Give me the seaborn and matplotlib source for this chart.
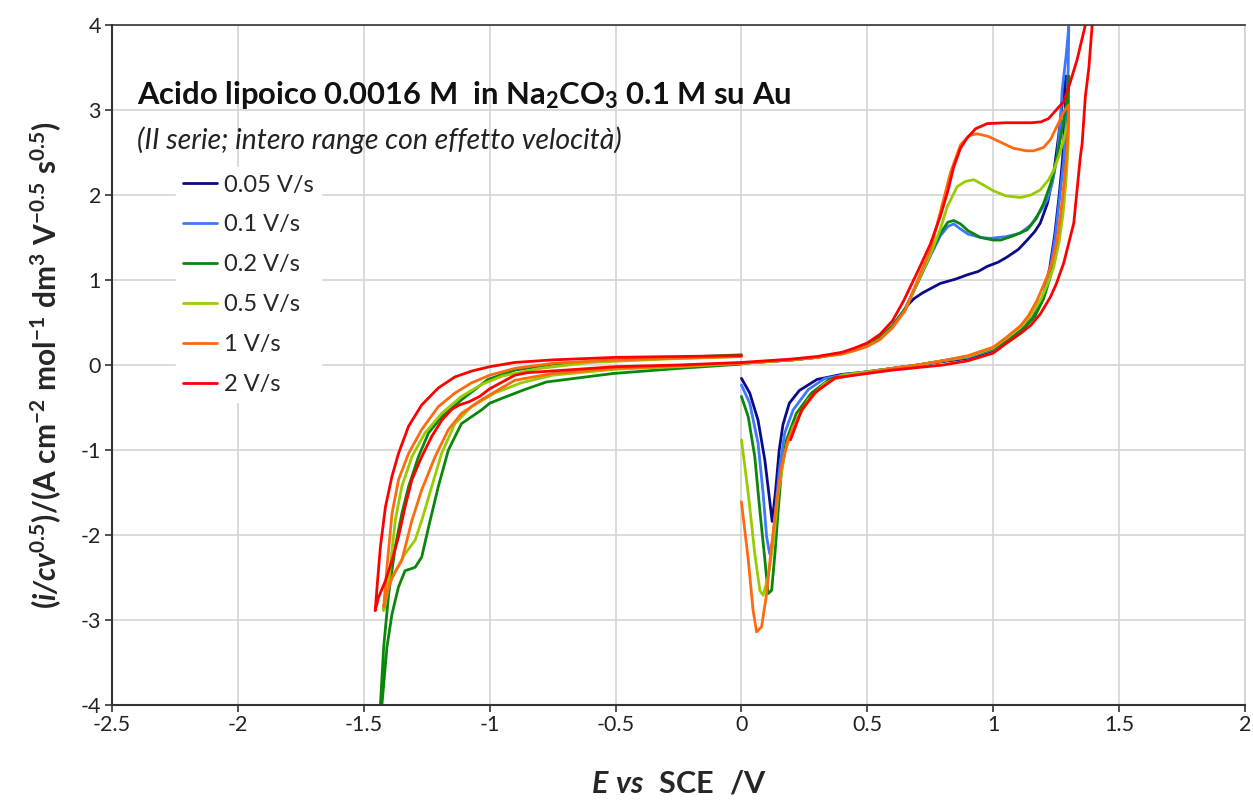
import numpy as np
import pandas as pd
import matplotlib
matplotlib.use("Agg")
import matplotlib.pyplot as plt
import seaborn as sns

# ---------------- data ----------------
rates = ["0.05 V/s", "0.1 V/s", "0.2 V/s", "0.5 V/s", "1 V/s", "2 V/s"]
colors = ["#0b0b8a", "#3f78ff", "#0a870a", "#99cc00", "#ff6a10", "#ff0000"]

# anodic range (0 -> ~1.3 V -> back), E in V, j in A cm-2 mol-1 dm3 V-0.5 s0.5
pos_E_005 = [0, 0.1, 0.2, 0.3, 0.4, 0.45, 0.5, 0.55, 0.6, 0.64, 0.665, 0.685, 0.72, 0.79, 0.85, 0.896, 0.94,
             0.976, 1.02, 1.055, 1.1, 1.135, 1.165, 1.187, 1.215, 1.24, 1.26, 1.275, 1.29,
             1.285, 1.275, 1.262, 1.245, 1.225, 1.2, 1.165, 1.12, 1.06, 1.0, 0.9, 0.8, 0.7, 0.6, 0.5, 0.4,
             0.3, 0.23, 0.19, 0.165, 0.15, 0.135, 0.122, 0.112, 0.093, 0.066, 0.033, 0.0]
pos_J_005 = [0.02, 0.04, 0.06, 0.09, 0.14, 0.18, 0.23, 0.32, 0.46, 0.62, 0.72, 0.78, 0.85, 0.96, 1.01, 1.06, 1.10,
             1.16, 1.21, 1.27, 1.36, 1.47, 1.57, 1.67, 1.9, 2.25, 2.7, 3.1, 3.4,
             2.9, 2.4, 2.0, 1.55, 1.15, 0.82, 0.6, 0.43, 0.28, 0.17, 0.08, 0.04, 0.0, -0.04, -0.08, -0.11,
             -0.17, -0.3, -0.45, -0.7, -1.0, -1.5, -1.84, -1.59, -1.12, -0.65, -0.33, -0.157]

pos_E_01 = [0, 0.1, 0.2, 0.3, 0.4, 0.45, 0.5, 0.55, 0.6, 0.65, 0.7, 0.75, 0.79, 0.82, 0.843, 0.87, 0.9, 0.95,
            0.99, 1.05, 1.107, 1.15, 1.19, 1.214, 1.235, 1.254, 1.265, 1.274, 1.29, 1.3,
            1.298, 1.29, 1.28, 1.265, 1.248, 1.228, 1.2, 1.165, 1.12, 1.06, 1.0, 0.9, 0.8, 0.7, 0.6, 0.5, 0.4,
            0.33, 0.265, 0.205, 0.172, 0.152, 0.139, 0.126, 0.112, 0.1, 0.086, 0.066, 0.033, 0.0]
pos_J_01 = [0.02, 0.04, 0.06, 0.09, 0.14, 0.18, 0.23, 0.32, 0.46, 0.66, 0.97, 1.28, 1.52, 1.63, 1.66, 1.6, 1.54, 1.5,
            1.49, 1.51, 1.55, 1.65, 1.82, 1.94, 2.15, 2.45, 2.8, 3.24, 3.65, 3.98,
            3.5, 2.9, 2.4, 2.0, 1.55, 1.15, 0.8, 0.58, 0.43, 0.29, 0.18, 0.09, 0.05, 0.0, -0.04, -0.08, -0.12,
            -0.16, -0.29, -0.53, -0.8, -1.2, -1.59, -2.06, -2.22, -2.02, -1.51, -0.92, -0.45, -0.235]

pos_E_02 = [0, 0.1, 0.2, 0.3, 0.4, 0.45, 0.5, 0.55, 0.6, 0.65, 0.7, 0.75, 0.79, 0.82, 0.843, 0.87, 0.9, 0.95,
            1.0, 1.03, 1.08, 1.135, 1.17, 1.2, 1.23, 1.254, 1.275, 1.293, 1.3,
            1.298, 1.292, 1.282, 1.268, 1.25, 1.228, 1.2, 1.165, 1.12, 1.06, 1.0, 0.9, 0.8, 0.7, 0.6, 0.5, 0.4,
            0.344, 0.278, 0.218, 0.179, 0.159, 0.146, 0.133, 0.12, 0.106, 0.093, 0.073, 0.053, 0.027, 0.0]
pos_J_02 = [0.02, 0.04, 0.06, 0.09, 0.14, 0.18, 0.23, 0.32, 0.46, 0.66, 0.97, 1.3, 1.55, 1.68, 1.7, 1.66, 1.58, 1.5,
            1.47, 1.47, 1.52, 1.59, 1.72, 1.9, 2.15, 2.45, 2.8, 3.12, 3.4,
            3.0, 2.5, 2.1, 1.7, 1.35, 1.05, 0.78, 0.57, 0.43, 0.29, 0.19, 0.1, 0.05, 0.0, -0.04, -0.08, -0.12,
            -0.18, -0.33, -0.57, -0.88, -1.24, -1.71, -2.22, -2.65, -2.69, -2.29, -1.71, -1.08, -0.61, -0.37]

pos_E_05 = [0, 0.1, 0.2, 0.3, 0.4, 0.45, 0.5, 0.55, 0.6, 0.65, 0.7, 0.75, 0.79, 0.817, 0.857, 0.89, 0.923, 0.96,
            1.0, 1.05, 1.108, 1.15, 1.187, 1.22, 1.24, 1.26, 1.28, 1.3,
            1.298, 1.29, 1.278, 1.262, 1.24, 1.215, 1.19, 1.15, 1.11, 1.05, 1.0, 0.9, 0.8, 0.7, 0.6, 0.5, 0.4,
            0.33, 0.265, 0.205, 0.172, 0.146, 0.126, 0.106, 0.086, 0.073, 0.053, 0.027, 0.0]
pos_J_05 = [0.02, 0.04, 0.06, 0.09, 0.13, 0.17, 0.22, 0.30, 0.44, 0.64, 0.98, 1.3, 1.6, 1.86, 2.1, 2.16, 2.18, 2.12,
            2.05, 1.99, 1.97, 2.0, 2.06, 2.18, 2.29, 2.45, 2.65, 2.9,
            2.6, 2.2, 1.8, 1.45, 1.15, 0.95, 0.78, 0.58, 0.45, 0.31, 0.2, 0.1, 0.05, 0.0, -0.04, -0.08, -0.12,
            -0.22, -0.41, -0.73, -1.04, -1.51, -2.1, -2.49, -2.71, -2.65, -2.22, -1.51, -0.88]

pos_E_1 = [0, 0.1, 0.2, 0.3, 0.4, 0.45, 0.5, 0.55, 0.6, 0.65, 0.7, 0.75, 0.79, 0.83, 0.87, 0.905, 0.936, 0.98,
           1.03, 1.08, 1.13, 1.161, 1.2, 1.227, 1.26, 1.28, 1.3,
           1.298, 1.29, 1.275, 1.254, 1.235, 1.214, 1.187, 1.174, 1.14, 1.108, 1.05, 1.0, 0.9, 0.8, 0.7, 0.6, 0.5,
           0.37, 0.305, 0.239, 0.185, 0.159, 0.139, 0.119, 0.1, 0.08, 0.06, 0.046, 0.027, 0.0]
pos_J_1 = [0.02, 0.04, 0.06, 0.09, 0.13, 0.17, 0.22, 0.30, 0.44, 0.64, 1.0, 1.35, 1.8, 2.26, 2.59, 2.7, 2.72, 2.69,
           2.62, 2.55, 2.52, 2.52, 2.56, 2.65, 2.85, 2.98, 3.06,
           2.8, 2.4, 1.95, 1.47, 1.22, 1.04, 0.85, 0.76, 0.58, 0.46, 0.32, 0.21, 0.11, 0.05, 0.0, -0.04, -0.09,
           -0.16, -0.29, -0.53, -0.88, -1.2, -1.63, -2.14, -2.69, -3.08, -3.14, -2.88, -2.29, -1.61]

pos_E_2 = [0, 0.1, 0.2, 0.3, 0.4, 0.45, 0.5, 0.55, 0.6, 0.645, 0.7, 0.75, 0.79, 0.82, 0.843, 0.87, 0.896, 0.93,
           0.976, 1.05, 1.15, 1.19, 1.22, 1.25, 1.28, 1.3, 1.333, 1.366, 1.38,
           1.395, 1.393, 1.38, 1.366, 1.353, 1.346, 1.32, 1.28, 1.25, 1.227, 1.187, 1.15, 1.108, 1.05, 1.0, 0.9,
           0.8, 0.7, 0.6, 0.5, 0.373, 0.29, 0.239, 0.195]
pos_J_2 = [0.03, 0.05, 0.07, 0.10, 0.15, 0.20, 0.26, 0.36, 0.52, 0.76, 1.1, 1.42, 1.75, 2.05, 2.33, 2.55, 2.67, 2.78,
           2.84, 2.85, 2.85, 2.86, 2.9, 3.0, 3.1, 3.27, 3.59, 4.0, 4.35,
           4.35, 4.0, 3.5, 3.16, 2.6, 2.45, 1.67, 1.2, 0.95, 0.8, 0.6, 0.47, 0.37, 0.25, 0.14, 0.05,
           0.0, -0.03, -0.06, -0.1, -0.15, -0.33, -0.53, -0.88]

# cathodic range (0 -> ~-1.45 V -> back to 0)
neg_E_02 = [0, -0.25, -0.51, -0.775, -0.862, -0.941, -1.0, -1.033, -1.112, -1.164, -1.204, -1.243, -1.27, -1.296,
            -1.336, -1.362, -1.388, -1.408, -1.428, -1.435,
            -1.44, -1.434, -1.421, -1.401, -1.375, -1.349, -1.322, -1.283, -1.243, -1.191, -1.112, -1.007,
            -0.9, -0.75, -0.5, -0.25, 0.0]
neg_J_02 = [0.01, -0.04, -0.1, -0.2, -0.29, -0.38, -0.45, -0.53, -0.69, -1.0, -1.43, -1.91, -2.26, -2.38,
            -2.42, -2.61, -2.93, -3.32, -4.0, -4.3,
            -4.3, -4.0, -3.32, -2.69, -2.14, -1.75, -1.43, -1.08, -0.8, -0.61, -0.41, -0.17,
            -0.06, 0.01, 0.06, 0.09, 0.12]

neg_E_05 = [0, -0.25, -0.5, -0.75, -0.875, -0.98, -1.072, -1.138, -1.191, -1.23, -1.27, -1.296, -1.336, -1.37,
            -1.401, -1.421,
            -1.401, -1.375, -1.349, -1.309, -1.257, -1.191, -1.112, -1.033, -0.95, -0.8, -0.6, -0.3, 0.0]
neg_J_05 = [0.02, -0.02, -0.05, -0.12, -0.21, -0.33, -0.49, -0.69, -1.04, -1.43, -1.83, -2.06, -2.22, -2.4,
            -2.6, -2.89,
            -2.54, -1.83, -1.43, -1.08, -0.8, -0.57, -0.37, -0.23, -0.13, -0.04, 0.03, 0.07, 0.1]

neg_E_1 = [0, -0.25, -0.5, -0.75, -0.9, -0.941, -1.033, -1.112, -1.164, -1.217, -1.27, -1.309, -1.349, -1.388,
           -1.41, -1.421,
           -1.408, -1.388, -1.362, -1.322, -1.27, -1.204, -1.138, -1.072, -1.0, -0.9, -0.75, -0.5, -0.25, 0.0]
neg_J_1 = [0.02, -0.01, -0.04, -0.1, -0.18, -0.25, -0.41, -0.57, -0.76, -1.08, -1.47, -1.83, -2.3, -2.5,
           -2.7, -2.85,
           -2.38, -1.75, -1.35, -1.04, -0.76, -0.49, -0.33, -0.21, -0.12, -0.04, 0.02, 0.06, 0.08, 0.1]

neg_E_2 = [0, -0.25, -0.5, -0.7, -0.85, -0.9, -0.95, -1.0, -1.04, -1.08, -1.12, -1.15, -1.19, -1.23, -1.27,
           -1.309, -1.336, -1.362, -1.388, -1.414, -1.441, -1.455,
           -1.454, -1.447, -1.434, -1.414, -1.388, -1.362, -1.322, -1.27, -1.204, -1.138, -1.07, -1.0, -0.9,
           -0.75, -0.5, -0.25, 0.0]
neg_J_2 = [0.03, 0.0, -0.02, -0.06, -0.09, -0.12, -0.2, -0.28, -0.37, -0.43, -0.47, -0.52, -0.65, -0.84, -1.08,
           -1.35, -1.67, -2.02, -2.3, -2.54, -2.73, -2.89,
           -2.87, -2.6, -2.14, -1.67, -1.31, -1.04, -0.72, -0.47, -0.27, -0.14, -0.07, -0.02, 0.03,
           0.06, 0.09, 0.1, 0.11]

# ---------------- assemble long table ----------------
segments = [
    (rates[0], "pos", pos_E_005, pos_J_005),
    (rates[1], "pos", pos_E_01, pos_J_01),
    (rates[2], "neg", neg_E_02, neg_J_02),
    (rates[2], "pos", pos_E_02, pos_J_02),
    (rates[3], "neg", neg_E_05, neg_J_05),
    (rates[3], "pos", pos_E_05, pos_J_05),
    (rates[4], "neg", neg_E_1, neg_J_1),
    (rates[4], "pos", pos_E_1, pos_J_1),
    (rates[5], "neg", neg_E_2, neg_J_2),
    (rates[5], "pos", pos_E_2, pos_J_2),
]
frames = []
for i, (rate, part, E, J) in enumerate(segments):
    assert len(E) == len(J), (rate, part, len(E), len(J))
    frames.append(pd.DataFrame({"E": E, "j": J, "rate": rate, "seg": f"{rate}-{part}"}))
df = pd.concat(frames, ignore_index=True)

# ---------------- style ----------------
sns.set_theme(style="white")
plt.rcParams["font.family"] = ["Lato", "DejaVu Sans"]
plt.rcParams["mathtext.fontset"] = "custom"
plt.rcParams["mathtext.rm"] = "Lato"
plt.rcParams["mathtext.it"] = "Lato:italic"
plt.rcParams["mathtext.bf"] = "Lato:bold"
plt.rcParams["mathtext.bfit"] = "Lato:bold:italic"

W, H = 1253, 801
fig = plt.figure(figsize=(W / 100, H / 100), dpi=100)
ax = fig.add_axes([112 / W, 1 - 705 / H, (1245 - 112) / W, (705 - 25) / H])

palette = dict(zip(rates, colors))
sns.lineplot(data=df, x="E", y="j", hue="rate", hue_order=rates, units="seg",
             estimator=None, sort=False, palette=palette, linewidth=2.0, ax=ax, legend=True)

ax.set_xlim(-2.5, 2)
ax.set_ylim(-4, 4)
ax.set_xticks(np.arange(-2.5, 2.01, 0.5))
ax.set_yticks(np.arange(-4, 4.01, 1))
ax.set_xticklabels(["-2.5", "-2", "-1.5", "-1", "-0.5", "0", "0.5", "1", "1.5", "2"])
ax.set_yticklabels(["-4", "-3", "-2", "-1", "0", "1", "2", "3", "4"])
ax.grid(True, color="#d4d4d4", linewidth=1.2)
ax.set_axisbelow(True)
for s in ["left", "bottom"]:
    ax.spines[s].set_color("#333333")
    ax.spines[s].set_linewidth(1.5)
ax.spines["top"].set_color("#333333")
ax.spines["top"].set_linewidth(1.2)
ax.spines["right"].set_color("#d4d4d4")
ax.tick_params(axis="both", direction="out", length=5, width=1.2, color="#333333",
               labelsize=15.5, labelcolor="#222222", bottom=True, left=True)
ax.tick_params(axis="x", pad=2)
ax.tick_params(axis="y", pad=3)

ax.set_xlabel(r"$\mathbfit{E\ vs}\ \ \mathbf{SCE\ \ /V}$", fontsize=22, labelpad=25)
ax.set_ylabel(r"$\mathbf{(}\mathbfit{i/cv}^{\mathbf{0.5}}\mathbf{)/(A\ cm^{-2}\ mol^{-1}\ dm^{3}\ V^{-0.5}\ s^{0.5})}$",
              fontsize=21.5, labelpad=12)

fig.text(137 / W, 1 - 95 / H, r"Acido lipoico 0.0016 M  in Na$_\mathbf{2}$CO$_\mathbf{3}$ 0.1 M su Au",
         fontsize=22.3, fontweight="bold", ha="left", va="center", color="#111111")
fig.text(137 / W, 1 - 140 / H, "(II serie; intero range con effetto velocità)",
         fontsize=20.5, fontstyle="italic", ha="left", va="center", color="#222222")

handles, labels = ax.get_legend_handles_labels()
ax.get_legend().remove()
leg = ax.legend(handles, labels, loc="upper left", bbox_to_anchor=(0.0565, 0.7905),
                frameon=True, facecolor="white", edgecolor="white", framealpha=1.0,
                fontsize=17, handlelength=1.45, handletextpad=0.3, labelspacing=0.8,
                borderpad=0.3, borderaxespad=0)
for line in leg.get_lines():
    line.set_linewidth(2.0)

fig.savefig("out.png", dpi=100, facecolor="white")
